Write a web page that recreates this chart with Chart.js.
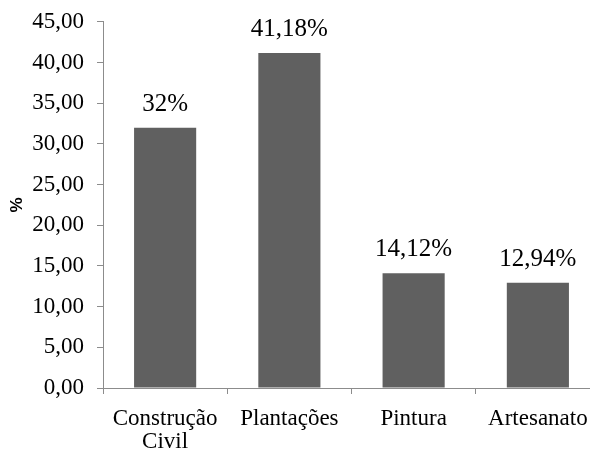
<!DOCTYPE html>
<html>
<head>
<meta charset="utf-8">
<script src="https://cdn.jsdelivr.net/npm/chart.js@4/dist/chart.umd.min.js"></script>
<style>
  html, body { margin: 0; padding: 0; background: #fff; overflow: hidden; }
  #wrap { width: 610px; height: 454px; }
</style>
</head>
<body>
<div id="wrap"><canvas id="chart" width="610" height="454"></canvas></div>
<script>
const categories = [['Construção', 'Civil'], 'Plantações', 'Pintura', 'Artesanato'];
const percentages = [32, 41.18, 14.12, 12.94];
const yTicks = [0, 5, 10, 15, 20, 25, 30, 35, 40, 45];

const SERIF = '"Liberation Serif", "Times New Roman", serif';
const BAR_COLOR = '#606060';
const AXIS_COLOR = '#8c8c8c';

function commaNum(v) {
  return v.toFixed(2).replace('.', ',');
}

function pctLabel(v) {
  return Number.isInteger(v) ? v + '%' : commaNum(v) + '%';
}

// value labels above each bar
const barLabels = {
  id: 'barLabels',
  afterDatasetsDraw(chart) {
    const { ctx } = chart;
    const meta = chart.getDatasetMeta(0);
    ctx.save();
    ctx.font = '25px ' + SERIF;
    ctx.fillStyle = '#000';
    ctx.textAlign = 'center';
    ctx.textBaseline = 'alphabetic';
    meta.data.forEach((bar, i) => {
      ctx.fillText(pctLabel(percentages[i]), bar.x, bar.y - 17);
    });
    ctx.restore();
  },
};

new Chart(document.getElementById('chart'), {
  type: 'bar',
  data: {
    labels: categories,
    datasets: [{
      data: percentages,
      backgroundColor: BAR_COLOR,
      borderWidth: 0,
      categoryPercentage: 1,
      barPercentage: 0.5,
    }],
  },
  options: {
    responsive: false,
    animation: false,
    devicePixelRatio: 1,
    layout: { padding: { top: 0, right: 10, left: 0, bottom: 0 } },
    plugins: {
      legend: { display: false },
      tooltip: { enabled: false },
    },
    scales: {
      x: {
        afterFit(scale) { scale.height = 66; },
        border: { color: AXIS_COLOR, width: 1 },
        grid: { display: true, drawOnChartArea: false, offset: true, tickLength: 6, color: AXIS_COLOR },
        ticks: {
          color: '#000',
          font: { family: SERIF, size: 23, lineHeight: 1.0 },
          padding: 13,
          maxRotation: 0,
          autoSkip: false,
        },
      },
      y: {
        min: 0,
        max: 45,
        afterFit(scale) { scale.width = 103; },
        afterBuildTicks(scale) { scale.ticks = yTicks.map((v) => ({ value: v })); },
        border: { color: AXIS_COLOR, width: 1 },
        grid: { display: true, drawOnChartArea: false, tickLength: 6, color: AXIS_COLOR },
        ticks: {
          color: '#000',
          font: { family: SERIF, size: 23, lineHeight: 0.78 },
          padding: 13,
          callback: (v) => commaNum(v),
        },
        title: {
          display: true,
          text: '%',
          color: '#000',
          font: { family: '"Liberation Sans", Arial, sans-serif', size: 17, weight: 'bold' },
          padding: { top: 7, bottom: 0 },
        },
      },
    },
  },
  plugins: [barLabels],
});
</script>
</body>
</html>
